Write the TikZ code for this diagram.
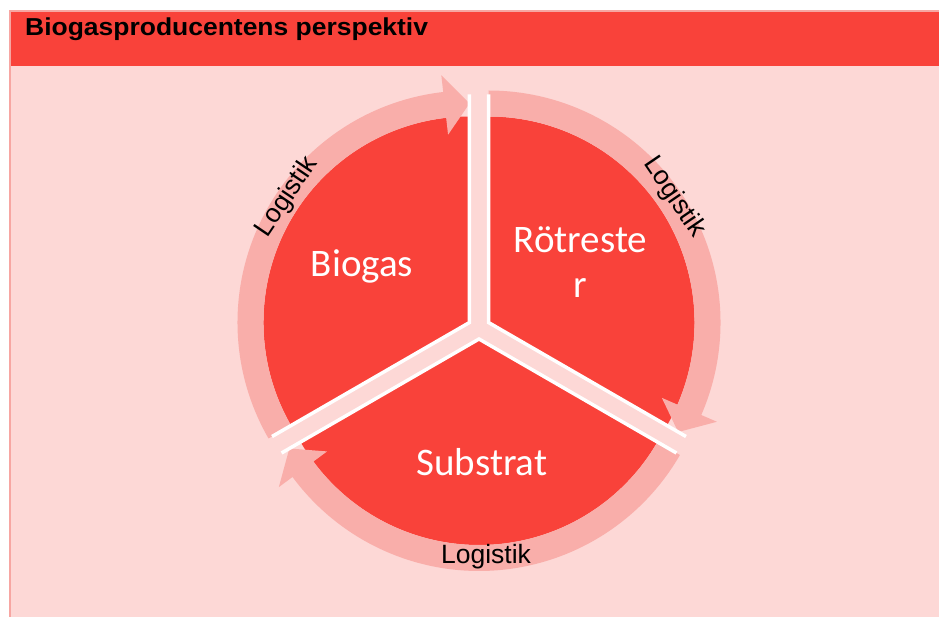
\documentclass[tikz,border=0pt]{standalone}
\usepackage{fontspec}
\setmainfont{Liberation Sans}
\newfontfamily\carlito{Carlito}
\usetikzlibrary{calc}
\definecolor{hdrred}{HTML}{F9423A}
\definecolor{secred}{HTML}{F9423A}
\definecolor{ringpink}{HTML}{F9AEAA}
\definecolor{bgpink}{HTML}{FDD8D6}
\definecolor{framepink}{HTML}{F7A6A2}
\begin{document}
\begin{tikzpicture}[x=1pt,y=1pt,
  sepline/.style={draw=white,line width=3.5pt,line join=miter},
  seclabel/.style={text=white,font=\carlito\fontsize{39}{45}\selectfont,inner sep=0pt,align=center},
  loglabel/.style={font=\fontsize{26.5}{29}\selectfont,inner sep=0pt}]
\useasboundingbox (0,0) rectangle (939,616);
\fill[white] (0,0) rectangle (939,616);
\fill[bgpink] (10,-4) rectangle (943,550);
\fill[hdrred] (10,550) rectangle (943,605);
\draw[framepink,line width=1.5pt] (10,-4) -- (10,605) -- (943,605);
\node[anchor=base west,inner sep=0pt,font=\bfseries\fontsize{24.5}{28}\selectfont] (title) at (25,580) {\scalebox{1.08}[1]{Biogasproducentens perspektiv}};
\begin{scope}[shift={(479,288)}]
  \foreach \t in {150,30,270}{
    \begin{scope}[shift={(\t:11)}]
      \fill[secred] (0,0) -- (\t-60:206) arc[start angle=\t-60,end angle=\t+60,radius=206] -- cycle;
    \end{scope}
  }
  \foreach \t in {150,30,270}{
    \begin{scope}[shift={(\t:11)}]
      \fill[ringpink] (\t+60:206) arc[start angle=\t+60,end angle=\t-53.5,radius=206]
        -- (\t-53.5:189) -- (\t-60:219) -- (\t-53.5:249) -- (\t-53.5:232)
        arc[start angle=\t-53.5,end angle=\t+60,radius=232] -- cycle;
    \end{scope}
  }
  \foreach \t in {150,30,270}{
    \begin{scope}[shift={(\t:11)}]
      \draw[sepline] (\t+60:228) -- (0,0) -- (\t-60:228);
    \end{scope}
  }
\end{scope}
\node[seclabel,anchor=base] (biogas) at (362,339) {Biogas};
\node[seclabel,anchor=base] (substrat) at (482,141) {Substrat};
\node[seclabel] (rotrest) at (580.5,354) {Rötreste\\r};
\node[loglabel,anchor=base] (log3) at (486,53) {Logistik};
\node[loglabel,rotate=56] (log1) at (287,419) {Logistik};
\node[loglabel,rotate=-55.7] (log2) at (674,419) {Logistik};
\end{tikzpicture}
\end{document}
